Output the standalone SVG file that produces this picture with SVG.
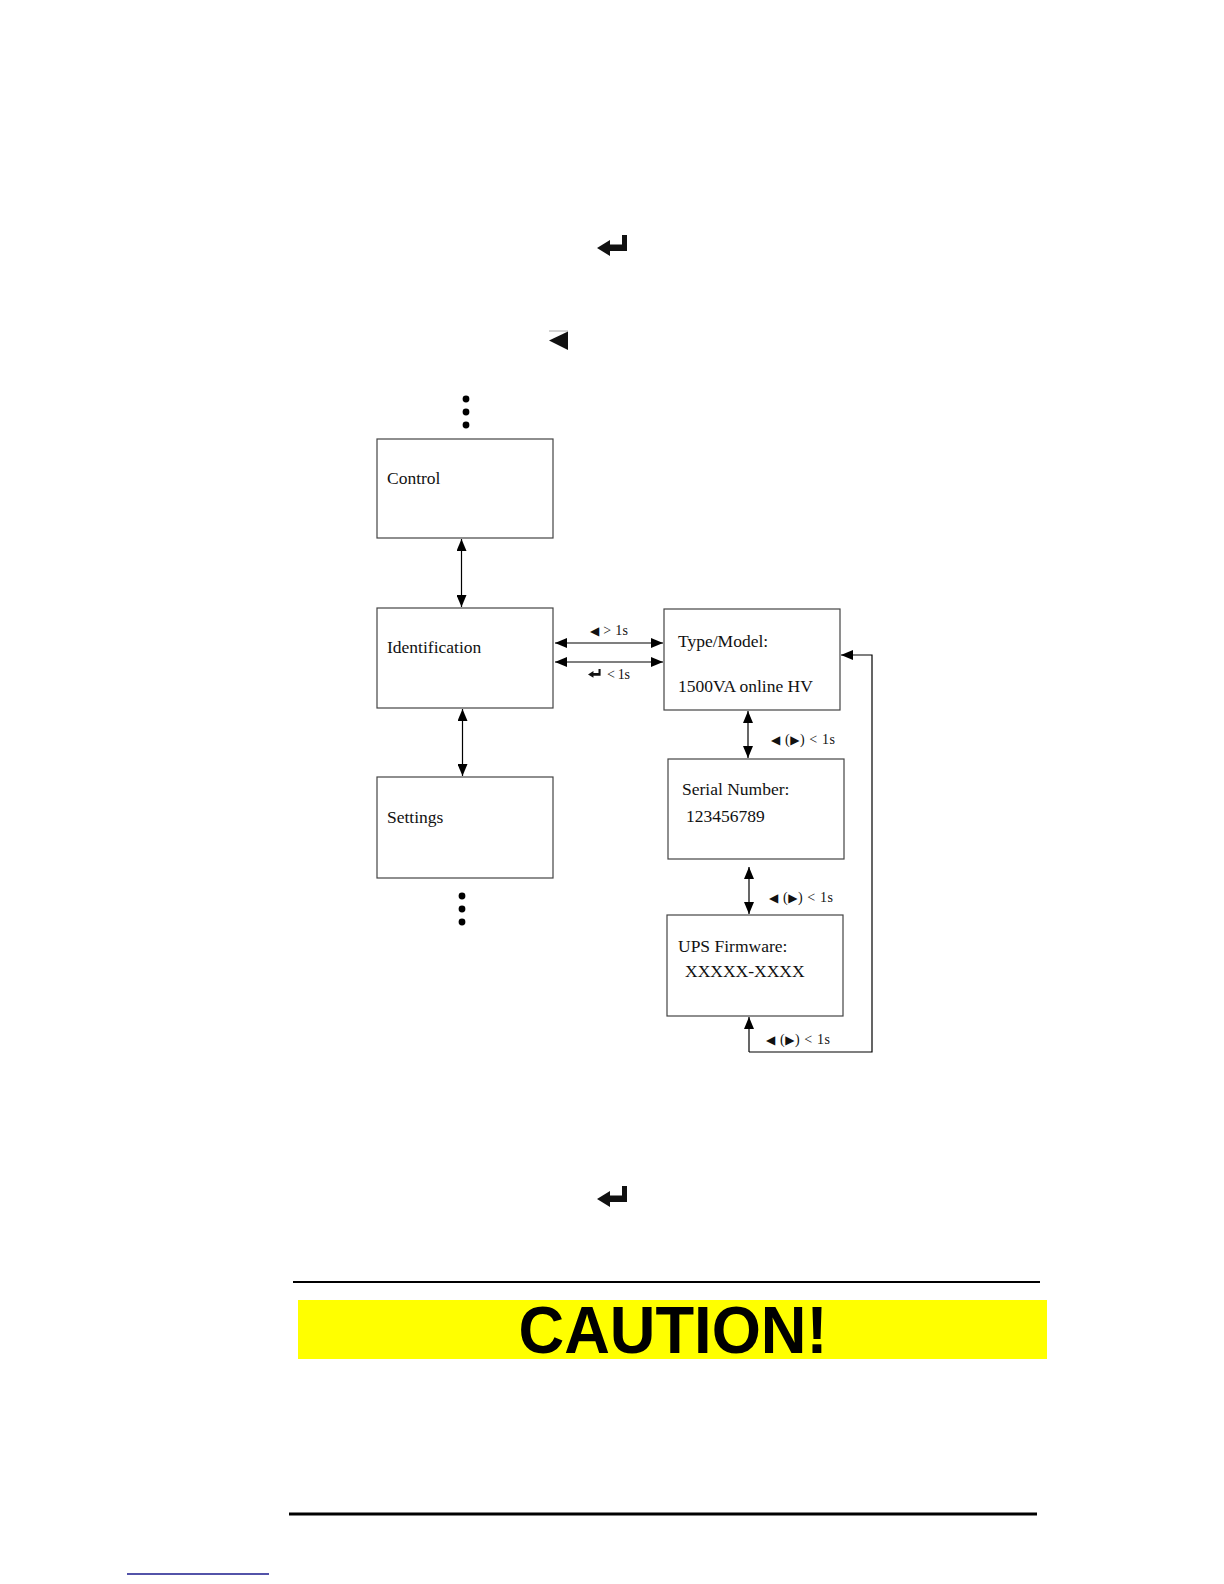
<svg xmlns="http://www.w3.org/2000/svg" width="1224" height="1584" viewBox="0 0 1224 1584">
<style>
.box{fill:#fff;stroke:#444;stroke-width:1.2}
.lbl{font-family:"Liberation Serif","Times New Roman",serif;font-size:17.5px;fill:#111}
.sm{font-family:"Liberation Serif","Times New Roman",serif;font-size:14px;fill:#111}
.sym{font-family:"DejaVu Sans",sans-serif;font-size:12px}
.con{fill:none;stroke:#000;stroke-width:1.2}
.dot{fill:#000}
</style>
<defs>
<marker id="ah" viewBox="0 0 12 10" refX="12" refY="5" markerWidth="12" markerHeight="10" markerUnits="userSpaceOnUse" orient="auto-start-reverse">
<path d="M0,0 L12,5 L0,10 z" fill="#000"/>
</marker>
<path id="enter" d="M25,0 L30,0 L30,16 L13,16 L13,21 L0,13 L13,5 L13,9.5 L25,9.5 z" fill="#111"/>
</defs>
<rect width="1224" height="1584" fill="#fff"/>

<!-- top icons -->
<g id="icon-enter-top"><use href="#enter" x="597" y="235"/></g>
<g id="icon-left-top">
<line x1="549" y1="331" x2="568" y2="331" stroke="#aaa" stroke-width="1"/>
<polygon points="549,340.5 568,331.5 568,350" fill="#111"/>
</g>

<!-- ellipsis dots -->
<g id="dots-top">
<circle class="dot" cx="466" cy="399" r="3.4"/>
<circle class="dot" cx="466" cy="412" r="3.4"/>
<circle class="dot" cx="466" cy="425" r="3.4"/>
</g>
<g id="dots-bottom">
<circle class="dot" cx="462" cy="896" r="3.4"/>
<circle class="dot" cx="462" cy="909" r="3.4"/>
<circle class="dot" cx="462" cy="922" r="3.4"/>
</g>

<!-- nodes -->
<g id="node-control">
<rect class="box" x="377" y="439" width="176" height="99"/>
<text class="lbl" x="387" y="484">Control</text>
</g>
<g id="node-identification">
<rect class="box" x="377" y="608" width="176" height="100"/>
<text class="lbl" x="387" y="653">Identification</text>
</g>
<g id="node-settings">
<rect class="box" x="377" y="777" width="176" height="101"/>
<text class="lbl" x="387" y="823">Settings</text>
</g>
<g id="node-type-model">
<rect class="box" x="664" y="609" width="176" height="101"/>
<text class="lbl" x="678" y="647">Type/Model:</text>
<text class="lbl" x="678" y="692">1500VA online HV</text>
</g>
<g id="node-serial">
<rect class="box" x="668" y="759" width="176" height="100"/>
<text class="lbl" x="682" y="795">Serial Number:</text>
<text class="lbl" x="686" y="822">123456789</text>
</g>
<g id="node-firmware">
<rect class="box" x="667" y="915" width="176" height="101"/>
<text class="lbl" x="678" y="952">UPS Firmware:</text>
<text class="lbl" x="685" y="977">XXXXX-XXXX</text>
</g>

<!-- connectors -->
<g id="connectors">
<line class="con" x1="461.5" y1="539" x2="461.5" y2="607" marker-start="url(#ah)" marker-end="url(#ah)"/>
<line class="con" x1="462.5" y1="709" x2="462.5" y2="776" marker-start="url(#ah)" marker-end="url(#ah)"/>
<line class="con" x1="555" y1="643" x2="663" y2="643" marker-start="url(#ah)" marker-end="url(#ah)"/>
<line class="con" x1="555" y1="662" x2="663" y2="662" marker-start="url(#ah)" marker-end="url(#ah)"/>
<line class="con" x1="748" y1="711" x2="748" y2="758" marker-start="url(#ah)" marker-end="url(#ah)"/>
<line class="con" x1="749" y1="867" x2="749" y2="914" marker-start="url(#ah)" marker-end="url(#ah)"/>
<polyline class="con" points="749,1052 872,1052 872,655 841,655" marker-end="url(#ah)"/>
<line class="con" x1="749" y1="1052" x2="749" y2="1017" marker-end="url(#ah)"/>
</g>

<!-- connector labels -->
<g id="connector-labels">
<text class="sm" x="590" y="635" textLength="38" lengthAdjust="spacing"><tspan class="sym">◀</tspan> &gt; 1s</text>
<use href="#enter" transform="translate(588,669) scale(0.42)"/>
<text class="sm" x="607" y="679" textLength="23" lengthAdjust="spacing">&lt; 1s</text>
<text class="sm" x="771" y="744" textLength="64" lengthAdjust="spacing"><tspan class="sym">◀</tspan> (<tspan class="sym">▶</tspan>) &lt; 1s</text>
<text class="sm" x="769" y="902" textLength="64" lengthAdjust="spacing"><tspan class="sym">◀</tspan> (<tspan class="sym">▶</tspan>) &lt; 1s</text>
<text class="sm" x="766" y="1044" textLength="64" lengthAdjust="spacing"><tspan class="sym">◀</tspan> (<tspan class="sym">▶</tspan>) &lt; 1s</text>
</g>

<!-- bottom icon -->
<g id="icon-enter-bottom"><use href="#enter" x="597" y="1186"/></g>

<!-- caution -->
<g id="caution">
<line x1="293" y1="1282" x2="1040" y2="1282" stroke="#000" stroke-width="2.2"/>
<rect x="298" y="1300" width="749" height="59" fill="#ffff00"/>
<text x="673" y="1353" text-anchor="middle" font-family="'Liberation Sans Narrow','Liberation Sans',Arial,sans-serif" font-weight="bold" font-size="66" textLength="309" lengthAdjust="spacingAndGlyphs" fill="#000">CAUTION!</text>
</g>
<line x1="289" y1="1514" x2="1037" y2="1514" stroke="#000" stroke-width="3"/>
<line x1="127" y1="1574" x2="269" y2="1574" stroke="#1a1a8c" stroke-width="1.5"/>
</svg>
